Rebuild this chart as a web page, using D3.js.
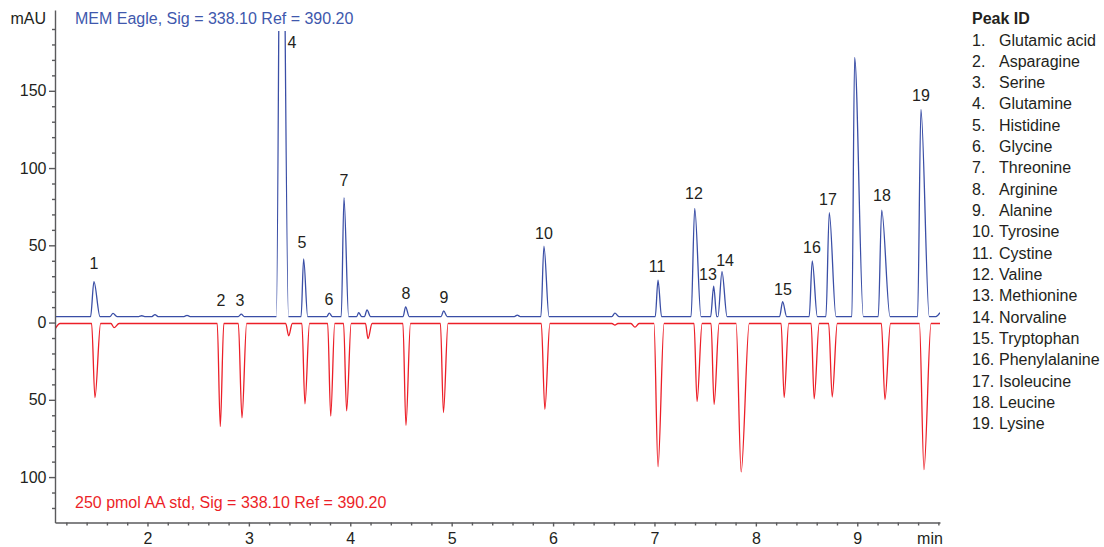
<!DOCTYPE html>
<html>
<head>
<meta charset="utf-8">
<script src="https://cdn.jsdelivr.net/npm/d3@7"></script>
<style>
  body { margin: 0; background: #fff; }
  svg text { font-family: "Liberation Sans", Arial, sans-serif; fill: #231f20; }
  .axis path, .axis line { stroke: #5a5a5c; stroke-width: 1.4; }
  .axis text { font-size: 16px; }
</style>
</head>
<body>
<div id="chart"></div>
<script>
// retention time (min) of every peak in the sample run (blue)
const blueTimes   = [1.472, 1.660, 1.943, 2.074, 2.390, 2.925, 3.321, 3.540, 3.793, 3.938, 4.083, 4.165, 4.546, 4.921, 5.647, 5.910, 6.610, 7.035, 7.397, 7.584, 7.666, 8.264, 8.556, 8.724, 8.974, 9.241, 9.628];
// peak height above baseline (mAU)
const blueHeights = [22.6, 2.0, 0.5, 1.3, 0.8, 1.5, 400, 37.3, 2.2, 77, 2.5, 4.3, 6.3, 3.7, 0.9, 45.6, 2.2, 23.6, 70, 19.6, 29, 9.6, 36, 67.3, 167.8, 68.9, 134];
// half widths at the base (min), front and tail
const blueFront   = [0.033, 0.03, 0.03, 0.03, 0.03, 0.03, 0.05, 0.025, 0.025, 0.027, 0.02, 0.025, 0.025, 0.025, 0.03, 0.03, 0.03, 0.027, 0.036, 0.03, 0.04, 0.03, 0.03, 0.033, 0.027, 0.034, 0.033];
const blueTail    = [0.06, 0.04, 0.03, 0.03, 0.03, 0.03, 0.07, 0.04, 0.03, 0.046, 0.03, 0.035, 0.035, 0.035, 0.03, 0.05, 0.04, 0.035, 0.062, 0.03, 0.05, 0.04, 0.05, 0.066, 0.086, 0.082, 0.082];
const blueBaseline = 3.9;
const blueEndRise = 2.5;

// standard run (red), drawn downwards
const redTimes  = [1.482, 1.670, 2.718, 2.932, 3.393, 3.553, 3.807, 3.964, 4.175, 4.549, 4.919, 5.919, 6.610, 6.808, 7.035, 7.420, 7.588, 7.855, 8.279, 8.575, 8.753, 9.273, 9.658];
const redDepths = [48, 2.7, 66.8, 61, 8, 52, 60, 56.6, 9.8, 66, 57.7, 55.5, 1.1, 2.4, 92.7, 50.6, 52.3, 96, 48, 48.7, 47.6, 49.3, 94.6];
const redFront  = [0.033, 0.03, 0.03, 0.036, 0.03, 0.03, 0.03, 0.03, 0.025, 0.03, 0.03, 0.035, 0.03, 0.04, 0.04, 0.03, 0.03, 0.05, 0.03, 0.03, 0.035, 0.035, 0.045];
const redTail   = [0.056, 0.05, 0.035, 0.046, 0.035, 0.045, 0.04, 0.045, 0.04, 0.045, 0.045, 0.05, 0.03, 0.04, 0.06, 0.05, 0.05, 0.08, 0.045, 0.05, 0.05, 0.055, 0.07];
const redBaseline = -0.6;
const redStartDip = -4.2;

// peak id labels: position (min, mAU) and names
const labelTimes  = [1.472, 2.725, 2.912, 3.425, 3.524, 3.790, 3.938, 4.550, 4.925, 5.910, 7.025, 7.390, 7.528, 7.696, 8.267, 8.553, 8.711, 9.243, 9.628];
const labelValues = [38.5, 14.6, 14.6, 181.5, 52.1, 15.2, 92, 19.1, 16.5, 57.9, 36.6, 83.8, 31.4, 40.5, 21.7, 48.9, 79.9, 82.5, 147.2];
const peakNames = ['Glutamic acid', 'Asparagine', 'Serine', 'Glutamine', 'Histidine', 'Glycine', 'Threonine', 'Arginine', 'Alanine', 'Tyrosine', 'Cystine', 'Valine', 'Methionine', 'Norvaline', 'Tryptophan', 'Phenylalanine', 'Isoleucine', 'Leucine', 'Lysine'];

const xTicks = [2, 3, 4, 5, 6, 7, 8, 9];
const yTicks = [-100, -50, 0, 50, 100, 150];

const width = 1104;
const height = 547;
const plot = {left: 55, right: 940, top: 10, bottom: 522.5, clipTop: 31};

let x = d3.scaleLinear().domain([1.088, 9.816]).range([plot.left, plot.right]);
let y = d3.scaleLinear().domain([-129.4, 202.3]).range([plot.bottom, plot.top]);

let svg = d3.select('#chart').append('svg')
  .attr('width', width)
  .attr('height', height);

svg.append('defs').append('clipPath')
  .attr('id', 'plot-clip')
  .append('rect')
  .attr('x', plot.left)
  .attr('y', plot.clipTop)
  .attr('width', plot.right - plot.left)
  .attr('height', plot.bottom - plot.clipTop);

// trace = baseline + front foot, apex, tail foot for each peak
function tracePoints(times, sizes, front, tail, base, sign) {
  let pts = [];
  times.forEach((t, i) => {
    pts.push({t: t - front[i], v: base});
    pts.push({t: t, v: base + sign * sizes[i]});
    pts.push({t: t + tail[i], v: base});
  });
  return pts;
}

let t0 = x.domain()[0];
let t1 = x.domain()[1];

let bluePts = tracePoints(blueTimes, blueHeights, blueFront, blueTail, blueBaseline, 1);
bluePts.unshift({t: t0, v: blueBaseline});
bluePts.push({t: t1 - 0.04, v: blueBaseline});
bluePts.push({t: t1, v: blueBaseline + blueEndRise});

let redPts = tracePoints(redTimes, redDepths, redFront, redTail, redBaseline, -1);
redPts.unshift({t: t0 + 0.05, v: redBaseline});
redPts.unshift({t: t0, v: redStartDip});
redPts.push({t: t1, v: redBaseline});

let drawLine = d3.line()
  .curve(d3.curveMonotoneX)
  .x(d => x(d.t))
  .y(d => y(d.v));

let traces = svg.append('g').attr('clip-path', 'url(#plot-clip)');

traces.append('path')
  .attr('d', drawLine(redPts))
  .attr('fill', 'none')
  .attr('stroke', '#ec1f28')
  .attr('stroke-width', 1.3);

traces.append('path')
  .attr('d', drawLine(bluePts))
  .attr('fill', 'none')
  .attr('stroke', '#3a4ea6')
  .attr('stroke-width', 1.3);

// axes
let minorY = d3.range(-120, 200, 10).filter(v => v % 50 !== 0);
let minorX = d3.range(6, 50).filter(i => i % 5 !== 0).map(i => i / 5);

svg.append('g')
  .attr('class', 'axis')
  .attr('transform', 'translate(' + plot.left + ',0)')
  .call(d3.axisLeft(y).tickValues(minorY).tickSize(3).tickSizeOuter(0).tickFormat(''))
  .select('.domain').remove();

svg.append('g')
  .attr('class', 'axis')
  .attr('transform', 'translate(' + plot.left + ',0)')
  .call(d3.axisLeft(y).tickValues(yTicks).tickSize(6).tickSizeOuter(0).tickPadding(2.5)
    .tickFormat(d => Math.abs(d)));

svg.append('g')
  .attr('class', 'axis')
  .attr('transform', 'translate(0,' + plot.bottom + ')')
  .call(d3.axisBottom(x).tickValues(minorX).tickSize(3).tickSizeOuter(0).tickFormat(''))
  .select('.domain').remove();

svg.append('g')
  .attr('class', 'axis')
  .attr('transform', 'translate(0,' + plot.bottom + ')')
  .call(d3.axisBottom(x).tickValues(xTicks).tickSize(4).tickSizeOuter(0).tickPadding(6));

svg.selectAll('.axis .domain').attr('stroke', '#5a5a5c');

svg.append('text')
  .attr('x', 46)
  .attr('y', 24)
  .attr('text-anchor', 'end')
  .style('font-size', '16px')
  .text('mAU');

svg.append('text')
  .attr('x', 930)
  .attr('y', 543.5)
  .attr('text-anchor', 'middle')
  .style('font-size', '16px')
  .text('min');

// run titles
svg.append('text')
  .attr('x', 75)
  .attr('y', 24)
  .style('font-size', '16px')
  .style('fill', '#4058ad')
  .text('MEM Eagle, Sig = 338.10 Ref = 390.20');

svg.append('text')
  .attr('x', 75)
  .attr('y', 508)
  .style('font-size', '16px')
  .style('fill', '#ec1f28')
  .text('250 pmol AA std, Sig = 338.10 Ref = 390.20');

// peak numbers
svg.append('g')
  .selectAll('text')
  .data(labelTimes)
  .enter().append('text')
  .attr('x', d => x(d))
  .attr('y', (d, i) => y(labelValues[i]))
  .attr('dy', '0.36em')
  .attr('text-anchor', 'middle')
  .style('font-size', '16px')
  .text((d, i) => i + 1);

// legend
let legend = svg.append('g').attr('transform', 'translate(972,0)');

legend.append('text')
  .attr('y', 24)
  .style('font-size', '16px')
  .style('font-weight', 'bold')
  .text('Peak ID');

let item = legend.selectAll('.item')
  .data(peakNames)
  .enter().append('g')
  .attr('class', 'item')
  .attr('transform', (d, i) => 'translate(0,' + (45.5 + i * 21.33) + ')');

item.append('text')
  .style('font-size', '16px')
  .text((d, i) => (i + 1) + '.');

item.append('text')
  .attr('x', 27)
  .style('font-size', '16px')
  .text(d => d);
</script>
</body>
</html>
